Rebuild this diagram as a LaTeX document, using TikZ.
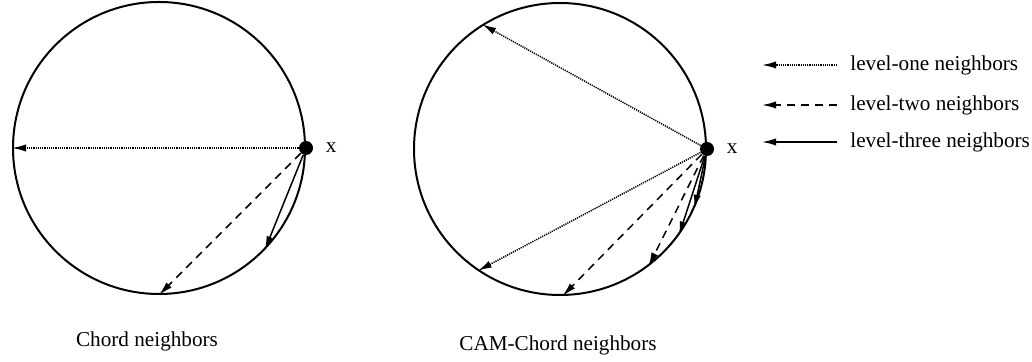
\documentclass[tikz,border=0pt]{standalone}
\usepackage{fontspec}
\setmainfont{Liberation Serif}
\usetikzlibrary{arrows.meta,positioning}
\tikzset{ring/.style={draw,circle,line width=1pt,minimum size=146pt,inner sep=0pt},
 hub/.style={circle,fill,minimum size=7pt,inner sep=0pt},
 lvone/.style={-{Latex[length=7pt,width=3.6pt]},line width=0.75pt,dash pattern=on 0.6pt off 0.5pt},
 lvtwo/.style={-{Latex[length=7pt,width=3.6pt]},line width=0.75pt,dash pattern=on 4pt off 3pt},
 lvthree/.style={-{Latex[length=7pt,width=3.6pt]},line width=0.75pt},
 key/.style={anchor=west,inner sep=0pt}}

\begin{document}
\begin{tikzpicture}[x=0.5pt,y=-0.5pt,font=\fontsize{10.6}{12.7}\selectfont]
\useasboundingbox (0,0) rectangle (1032,362);
\node[ring] (chord) at (159,148) {};
\node[ring] (cam) at (560,149) {};
\node[hub] (xa) at (chord.0) {};
\node[hub] (xb) at (cam.0) {};
\node[right=6pt of xa,inner sep=0pt] (xalab) {x};
\node[right=6pt of xb,inner sep=0pt] (xblab) {x};
\draw[lvone] (xa) -- (chord.180);
\draw[lvtwo] (xa) -- (chord.-90);
\draw[lvthree] (xa) -- (chord.-44);
\draw[lvone] (xb) -- (cam.122);
\draw[lvone] (xb) -- (cam.236);
\draw[lvtwo] (xb) -- (cam.271);
\draw[lvtwo] (xb) -- (cam.307);
\draw[lvthree] (xb) -- (cam.324);
\draw[lvthree] (xb) -- (cam.336);
\node (chordcap) at (147,341) {Chord neighbors};
\node (camcap) at (558,345) {CAM-Chord neighbors};
% legend
\node[key] (one) at (850,65) {level-one neighbors};
\node[key] (two) at (850,105) {level-two neighbors};
\node[key] (three) at (850,142) {level-three neighbors};
\coordinate (onefrom) at (837,65);
\coordinate (oneto) at (762,65);
\coordinate (twofrom) at (837,105);
\coordinate (twoto) at (762,105);
\coordinate (threefrom) at (837,142);
\coordinate (threeto) at (762,142);
\draw[lvone] (onefrom) -- (oneto);
\draw[lvtwo] (twofrom) -- (twoto);
\draw[lvthree] (threefrom) -- (threeto);
\end{tikzpicture}
\end{document}
